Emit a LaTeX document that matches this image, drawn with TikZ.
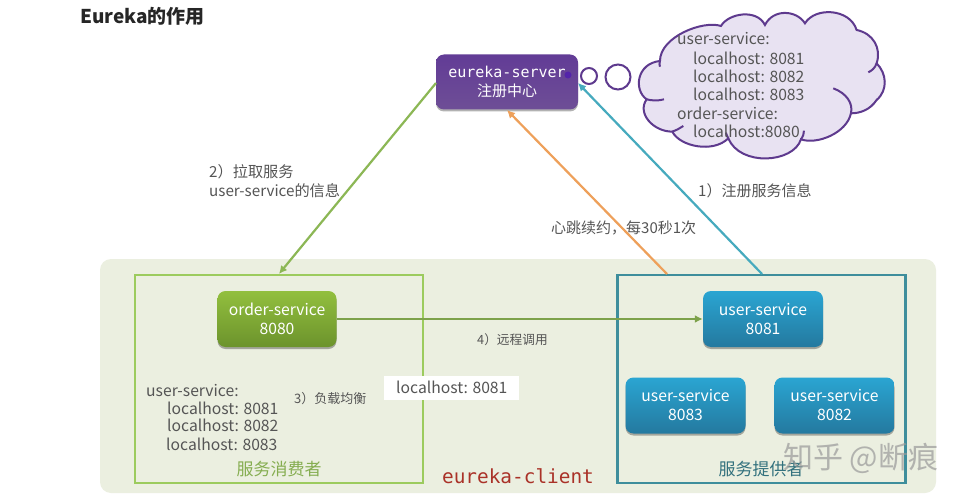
\documentclass[tikz,border=0pt]{standalone}
\usepackage{fontspec}
\setmainfont{Noto Sans CJK SC}
\newfontfamily\monof{DejaVu Sans Mono}
\usetikzlibrary{arrows.meta,shadows}
\definecolor{txt}{HTML}{555555}
\definecolor{bgc}{HTML}{EBEFE0}
\definecolor{grn}{HTML}{9CCB5E}
\definecolor{tealb}{HTML}{3E8E9C}
\definecolor{purp}{HTML}{5E3A8E}
\definecolor{bluetop}{RGB}{42,165,210}
\definecolor{bluebot}{RGB}{36,121,159}
\definecolor{greentop}{RGB}{146,191,62}
\definecolor{greenbot}{RGB}{108,147,44}
\definecolor{purptop}{RGB}{98,60,150}
\definecolor{purpbot}{RGB}{110,78,150}
\definecolor{cloudf}{RGB}{232,226,242}
\definecolor{orangec}{RGB}{238,160,90}
\definecolor{tealc}{RGB}{70,170,190}
\definecolor{redc}{RGB}{170,50,40}
\definecolor{dotc}{RGB}{84,36,170}
\tikzset{
  x=1pt,y=-1pt,
  svc/.style={rounded corners=8pt,minimum height=56pt,text=white,font=\fontsize{15.7}{19}\selectfont,align=center,inner sep=0pt,
    drop shadow={shadow xshift=0pt,shadow yshift=-2pt,opacity=.3,fill=black}},
  bluebox/.style={svc,minimum width=120pt,top color=bluetop,bottom color=bluebot},
  greenbox/.style={svc,minimum width=120pt,top color=greentop,bottom color=greenbot},
  purplebox/.style={svc,minimum width=142pt,minimum height=55pt,top color=purptop,bottom color=purpbot,font=\fontsize{15}{19}\selectfont},
  region/.style={draw,line width=2.2pt,minimum width=288pt,minimum height=208pt,inner sep=0pt},
  lab/.style={text=txt,font=\fontsize{15.7}{17}\selectfont,inner sep=0pt,anchor=west},
  small/.style={text=txt,inner sep=0pt,anchor=west,align=left},
  conn/.style={line width=2.2pt,-{Latex[length=8pt,width=8pt]}},
  bubble/.style={draw=purp,fill=white,line width=2pt},
}
\begin{document}
\begin{tikzpicture}
\useasboundingbox (0,0) rectangle (959,500);
\fill[white] (0,0) rectangle (959,500);
\node[font=\bfseries\fontsize{19}{22}\selectfont,text=black!85,inner sep=0pt,anchor=west] (title) at (80,16) {Eureka的作用};
\fill[bgc,rounded corners=11pt] (100,259) rectangle (936,493);
\node[region,draw=grn] (consumer) at (279,379) {};
\node[region,draw=tealb] (provider) at (761.5,379) {};
\node[purplebox] (server) at (507,82) {{\monof\fontsize{15}{19}\selectfont eureka-server}\\注册中心};
\node[greenbox,minimum width=119pt] (order) at (277,319) {order-service\\8080};
\node[bluebox] (u1) at (763,319) {user-service\\8081};
\node[bluebox] (u3) at (685.5,405.5) {user-service\\8083};
\node[bluebox] (u2) at (834.5,405.5) {user-service\\8082};
% connectors
\coordinate (gs) at (436,83);
\coordinate (os) at (667,274);
\coordinate (ot) at (507,110);
\coordinate (ts) at (762,274);
\coordinate (tt) at (578,83);
\draw[conn,color=grn!90!black] (gs) -- (consumer.north);
\draw[conn,color=orangec] (os) -- (ot);
\draw[conn,color=tealc] (ts) -- (tt);
\draw[conn,color=grn!80!black] (order.east) -- (u1.west);
% bubbles
\node[circle,fill=dotc,minimum size=7pt,inner sep=0pt] (b0) at (568,75) {};
\node[circle,bubble,minimum size=16pt,inner sep=0pt] (b1) at (589,76) {};
\node[circle,bubble,minimum size=25pt,inner sep=0pt] (b2) at (618,77) {};
% cloud
\begin{scope}[shift={(420,0)},x=0.3333pt,y=-0.3333pt]
\path[draw=purp,fill=cloudf,line width=2pt]
 (720,183) .. controls (720,110) and (850,60) .. (903,78)
 .. controls (925,40) and (1010,25) .. (1035,75)
 .. controls (1060,25) and (1130,30) .. (1155,70)
 .. controls (1185,20) and (1290,25) .. (1310,90)
 .. controls (1360,100) and (1385,145) .. (1370,190)
 .. controls (1400,220) and (1405,270) .. (1370,300)
 .. controls (1350,330) and (1320,340) .. (1293,340)
 .. controls (1280,400) and (1190,435) .. (1143,418)
 .. controls (1120,490) and (960,500) .. (925,415)
 .. controls (880,460) and (780,440) .. (757,395)
 .. controls (700,395) and (650,340) .. (680,298)
 .. controls (640,270) and (650,190) .. (720,183) -- cycle;
\draw[purp,line width=2pt]
 (720,183) .. controls (718,190) and (718,195) .. (720,200)
 (1370,190) .. controls (1365,205) and (1355,212) .. (1345,217)
 (1240,265) .. controls (1280,280) and (1300,310) .. (1293,340)
 (1143,418) .. controls (1150,408) and (1152,400) .. (1152,392)
 (925,415) .. controls (922,410) and (920,405) .. (918,398)
 (757,395) .. controls (770,390) and (780,385) .. (790,378)
 (680,298) .. controls (695,302) and (715,303) .. (732,298);
\end{scope}
% cloud text
\node[lab] (c1) at (677,39) {user-service:};
\node[lab] (c2) at (693,58) {localhost: 8081};
\node[lab] (c3) at (693,76) {localhost: 8082};
\node[lab] (c4) at (693,94) {localhost: 8083};
\node[lab] (c5) at (677,113) {order-service:};
\node[lab] (c6) at (693,131) {localhost:8080};
% labels
\node[small,font=\fontsize{15.2}{19}\selectfont] (l2) at (209,181) {2）拉取服务\\user-service的信息};
\node[small,font=\fontsize{15}{17}\selectfont] (l1) at (698,191) {1）注册服务信息};
\node[small,font=\fontsize{15}{17}\selectfont] (lh) at (551,228) {心跳续约，每30秒1次};
\node[small,font=\fontsize{12.7}{16}\selectfont] (l4) at (477,340) {4）远程调用};
\node[small,font=\fontsize{13}{16}\selectfont] (l3) at (294,399) {3）负载均衡};
\node[fill=white,minimum width=135pt,minimum height=24pt,inner sep=0pt] (wb) at (451.5,388) {};
\node[lab] (wt) at (396,387) {localhost: 8081};
\node[lab] (d1) at (146,391) {user-service:};
\node[lab] (d2) at (167,408) {localhost: 8081};
\node[lab] (d3) at (167,425) {localhost: 8082};
\node[lab] (d4) at (166,444) {localhost: 8083};
\node[text=grn!85!black,font=\fontsize{17}{20}\selectfont,inner sep=0pt] (cn) at (279,469) {服务消费者};
\node[text=tealb!80!black,font=\fontsize{17}{20}\selectfont,inner sep=0pt] (pn) at (761,469) {服务提供者};
\node[text=redc,font=\monof\fontsize{19.4}{22}\selectfont,inner sep=0pt] (ec) at (518,476) {eureka-client};
\node[text=black!40,opacity=.7,font=\fontsize{30}{34}\selectfont,inner sep=0pt,anchor=west] (wm) at (783,458) {知乎 @断痕};
\end{tikzpicture}
\end{document}
